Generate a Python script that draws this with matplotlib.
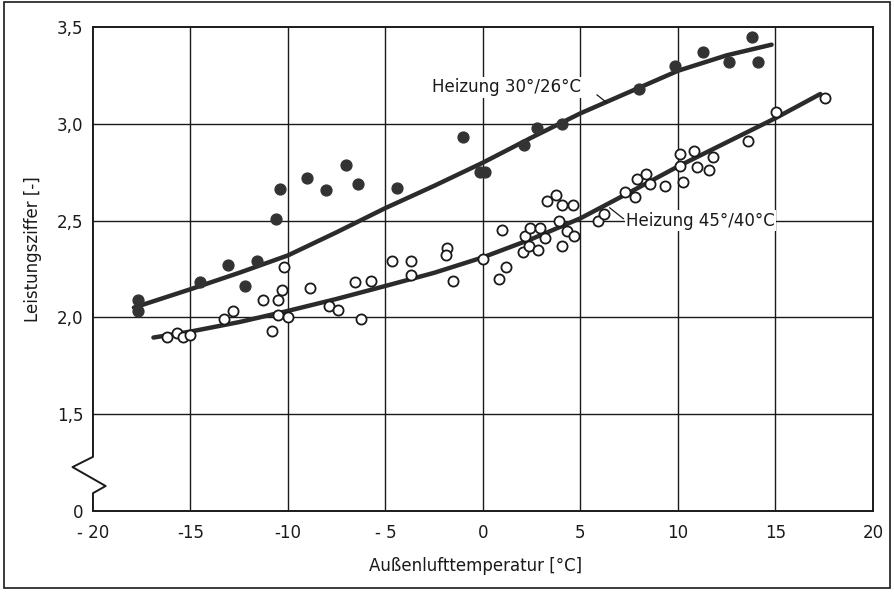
import matplotlib
matplotlib.use("Agg")
import matplotlib.pyplot as plt
from matplotlib.patches import Rectangle

plt.rcParams['font.family'] = ['DejaVu Sans']

# Heizung 30/26 °C (filled points)
x_30 = [-17.7, -17.7, -14.5, -13.1, -12.2, -11.6, -10.6, -10.4, -9.0, -8.05, -7.0,
        -6.4, -4.4, -1.0, -0.15, 0.1, 2.1, 2.75, 4.05, 8.0, 9.85, 11.3, 12.6, 13.8, 14.1]
y_30 = [2.09, 2.03, 2.18, 2.27, 2.16, 2.29, 2.51, 2.665, 2.72, 2.66, 2.79,
        2.69, 2.67, 2.93, 2.75, 2.75, 2.89, 2.98, 3.0, 3.18, 3.30, 3.37, 3.32, 3.45, 3.32]

# Heizung 45/40 °C (open points)
x_45 = [-16.2, -15.7, -15.4, -15.0, -13.3, -12.8, -11.3, -10.8, -10.5, -10.3, -10.2,
        -10.5, -10.0, -8.85, -7.9, -7.45, -6.25, -6.55, -5.75, -4.65, -3.7, -3.7,
        -1.85, -1.9, -1.55, 0.02, 0.8, 1.2, 1.0, 2.05, 2.15, 2.35, 2.4, 2.8, 2.9,
        3.2, 3.3, 3.75, 4.05, 4.6, 3.9, 4.3, 4.05, 4.65, 5.9, 6.2, 7.3, 7.8, 7.9,
        8.35, 8.55, 9.35, 10.1, 10.1, 10.25, 10.8, 10.95, 11.6, 11.8, 13.6, 15.05, 17.55]
y_45 = [1.90, 1.92, 1.90, 1.91, 1.99, 2.03, 2.09, 1.93, 2.09, 2.14, 2.26,
        2.01, 2.0, 2.15, 2.06, 2.04, 1.99, 2.18, 2.19, 2.29, 2.29, 2.22,
        2.36, 2.32, 2.19, 2.30, 2.20, 2.26, 2.45, 2.34, 2.42, 2.37, 2.46, 2.35, 2.46,
        2.41, 2.60, 2.63, 2.58, 2.58, 2.50, 2.445, 2.37, 2.42, 2.50, 2.535, 2.65, 2.62, 2.715,
        2.74, 2.69, 2.68, 2.845, 2.78, 2.70, 2.86, 2.775, 2.76, 2.83, 2.91, 3.06, 3.135]

# trend curves
cx_30 = [-17.9, -15, -12.5, -10, -7.5, -5, -2.5, 0, 2.5, 5, 7.5, 10, 12.5, 14.8]
cy_30 = [2.05, 2.145, 2.23, 2.32, 2.44, 2.565, 2.68, 2.80, 2.93, 3.055, 3.165, 3.275, 3.355, 3.41]
cx_45 = [-16.9, -15, -12.5, -10, -7.5, -5, -2.5, 0, 2.5, 5, 7.5, 10, 12.5, 15, 17.3]
cy_45 = [1.895, 1.926, 1.975, 2.033, 2.095, 2.162, 2.23, 2.31, 2.405, 2.512, 2.645, 2.78, 2.905, 3.03, 3.155]

x_ticks = [-20, -15, -10, -5, 0, 5, 10, 15, 20]
x_ticklabels = ['- 20', '-15', '-10', '- 5', '0', '5', '10', '15', '20']
y_ticks = [1.0, 1.5, 2.0, 2.5, 3.0, 3.5]
y_ticklabels = ['0', '1,5', '2,0', '2,5', '3,0', '3,5']

fig = plt.figure(figsize=(8.94, 5.93), dpi=100)
ax = fig.add_axes([0.104, 0.139, 0.8725, 0.815])

ink = '#1a1a1a'
ax.set_xlim(-20, 20)
ax.set_ylim(1.0, 3.5)

for xv in x_ticks[1:-1]:
    ax.axvline(xv, color=ink, lw=1.0, zorder=1)
for yv in y_ticks[1:-1]:
    ax.axhline(yv, color=ink, lw=1.0, zorder=1)

ax.plot(cx_30, cy_30, color='#2b2b2b', lw=3.2, solid_capstyle='round', zorder=3)
ax.plot(cx_45, cy_45, color='#2b2b2b', lw=3.2, solid_capstyle='round', zorder=3)

ax.plot(x_30, y_30, 'o', ms=7.8, mfc='#333333', mec='#333333', zorder=4)
ax.plot(x_45, y_45, 'o', ms=7.3, mfc='white', mec=ink, mew=1.3, zorder=4)

# labels with leader lines
ax.text(-2.6, 3.19, 'Heizung 30°/26°C', fontsize=12, color=ink, va='center', ha='left',
        bbox=dict(fc='white', ec='none', pad=1), zorder=5)
ax.plot([5.85, 6.35], [3.15, 3.11], color=ink, lw=0.9, zorder=5)
ax.text(7.35, 2.50, 'Heizung 45°/40°C', fontsize=12, color=ink, va='center', ha='left',
        bbox=dict(fc='white', ec='none', pad=1), zorder=5)
ax.plot([6.5, 7.2], [2.566, 2.51], color=ink, lw=0.9, zorder=5)

# axis frame with break on the left spine
for s in ['top', 'right', 'bottom']:
    ax.spines[s].set_linewidth(1.4)
    ax.spines[s].set_color(ink)
ax.spines['left'].set_visible(False)
ax.plot([-20, -20, -21.05, -19.35, -20, -20], [3.5, 1.278, 1.225, 1.127, 1.09, 1.0],
        color=ink, lw=1.4, clip_on=False, zorder=6)

ax.set_xticks(x_ticks)
ax.set_xticklabels(x_ticklabels)
ax.set_yticks(y_ticks)
ax.set_yticklabels(y_ticklabels)
ax.tick_params(length=0, labelsize=12, colors=ink)
ax.tick_params(axis='x', pad=10)
ax.tick_params(axis='y', pad=7)

ax.set_xlabel('Außenlufttemperatur [°C]', fontsize=12, color=ink)
ax.xaxis.set_label_coords(0.491, -0.096)
ax.set_ylabel('Leistungsziffer [-]', fontsize=12, color=ink)
ax.yaxis.set_label_coords(-0.065, 0.54)

fig.patches.append(Rectangle((0.004, 0.008), 0.992, 0.988, transform=fig.transFigure,
                             fill=False, ec=ink, lw=1.2))

fig.savefig('out.png', dpi=100)
